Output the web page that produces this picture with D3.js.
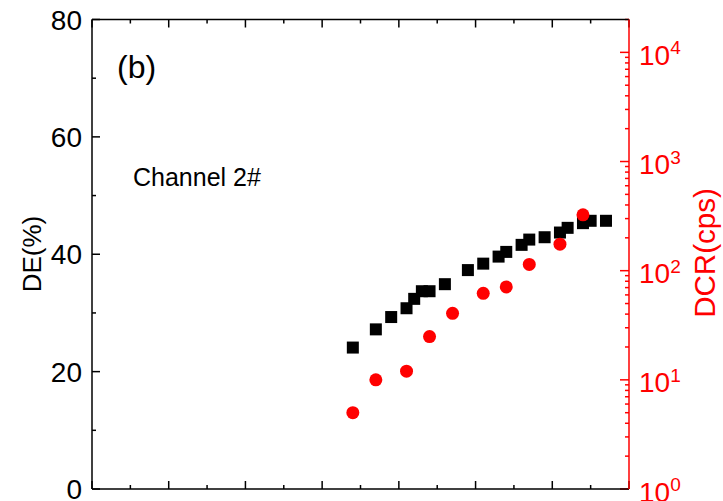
<!DOCTYPE html>
<html>
<head>
<meta charset="utf-8">
<script src="https://cdn.jsdelivr.net/npm/d3@7"></script>
<style>
  body { margin: 0; background: #fff; }
  svg text { font-family: "Liberation Sans", Arial, sans-serif; }
</style>
</head>
<body>
<svg id="chart" width="723" height="501"></svg>
<script>
// detection efficiency (left axis, %)
const deX = [3.4, 3.7, 3.9, 4.1, 4.2, 4.3, 4.4, 4.6, 4.9, 5.1, 5.3, 5.4, 5.6, 5.7, 5.9, 6.1, 6.2, 6.4, 6.5, 6.7]
const deY = [24.1, 27.2, 29.3, 30.8, 32.4, 33.7, 33.7, 34.9, 37.3, 38.4, 39.6, 40.4, 41.6, 42.5, 42.9, 43.7, 44.5, 45.3, 45.7, 45.7]

// dark count rate (right axis, cps)
const dcrX = [3.4, 3.7, 4.1, 4.4, 4.7, 5.1, 5.4, 5.7, 6.1, 6.4]
const dcrY = [5.0, 10.0, 12.0, 24.9, 40.7, 62, 71, 114, 175, 325]

const deTicks = [0, 20, 40, 60, 80]
const dcrDecades = [0, 1, 2, 3, 4]

let svg = d3.select('#chart')
let pL = 92, pR = 629, pT = 19.5, pB = 489

let x = d3.scaleLinear().domain([0, 7]).range([pL, pR])
let y = d3.scaleLinear().domain([0, 80]).range([pB, pT])
let yLog = d3.scaleLog().domain([1, 20000]).range([pB, pT])

let red = '#ff0000'
let fontSize = 28

// x axes (no labels), ticks point inward
let xMinor = d3.range(0, 7.01, 0.5)
function xTicks(yPos, dir) {
  svg.append('g').selectAll('line')
    .data(xMinor)
    .enter().append('line')
    .attr('x1', d => x(d)).attr('x2', d => x(d))
    .attr('y1', yPos)
    .attr('y2', d => yPos + dir * (d % 1 === 0 ? 8 : 4))
    .attr('stroke', 'black')
    .attr('stroke-width', 1.5)
}
xTicks(pB, -1)
xTicks(pT, 1)

// left axis ticks
let yMinor = d3.range(0, 81, 10)
svg.append('g').selectAll('line')
  .data(yMinor)
  .enter().append('line')
  .attr('x1', pL)
  .attr('x2', d => pL + (d % 20 === 0 ? 8 : 4))
  .attr('y1', d => y(d)).attr('y2', d => y(d))
  .attr('stroke', 'black')
  .attr('stroke-width', 1.5)

svg.append('g').selectAll('text')
  .data(deTicks)
  .enter().append('text')
  .attr('x', pL - 10)
  .attr('y', d => y(d))
  .attr('dy', '0.36em')
  .attr('text-anchor', 'end')
  .attr('font-size', fontSize)
  .text(d => d)

// right log axis ticks
let logMinor = []
dcrDecades.forEach(e => {
  for (let m = 1; m < 10; m++) {
    let v = m * Math.pow(10, e)
    if (v <= 20000) logMinor.push(v)
  }
})
svg.append('g').selectAll('line')
  .data(logMinor)
  .enter().append('line')
  .attr('x1', pR)
  .attr('x2', (d, i) => pR - (i % 9 === 0 ? 9 : 4))
  .attr('y1', d => yLog(d)).attr('y2', d => yLog(d))
  .attr('stroke', red)
  .attr('stroke-width', 1.5)

let rLabels = svg.append('g').selectAll('text')
  .data(dcrDecades)
  .enter().append('text')
  .attr('x', pR + 10)
  .attr('y', d => yLog(Math.pow(10, d)))
  .attr('dy', '0.45em')
  .attr('font-size', fontSize)
  .attr('fill', red)
rLabels.append('tspan').text('10')
rLabels.append('tspan')
  .attr('dy', '-0.55em')
  .attr('font-size', fontSize * 0.68)
  .text(d => d)

// frame
svg.append('line').attr('x1', pL).attr('x2', pR).attr('y1', pT).attr('y2', pT)
  .attr('stroke', 'black').attr('stroke-width', 1.5)
svg.append('line').attr('x1', pL).attr('x2', pR).attr('y1', pB).attr('y2', pB)
  .attr('stroke', 'black').attr('stroke-width', 1.5)
svg.append('line').attr('x1', pL).attr('x2', pL).attr('y1', pT).attr('y2', pB)
  .attr('stroke', 'black').attr('stroke-width', 1.5)
svg.append('line').attr('x1', pR).attr('x2', pR).attr('y1', pT).attr('y2', pB)
  .attr('stroke', red).attr('stroke-width', 1.5)

// axis titles
svg.append('text')
  .attr('transform', `translate(${32},${254}) rotate(-90)`)
  .attr('text-anchor', 'middle')
  .attr('dy', '0.36em')
  .attr('font-size', 26)
  .text('DE(%)')

svg.append('text')
  .attr('transform', `translate(${704},${253}) rotate(-90)`)
  .attr('text-anchor', 'middle')
  .attr('dy', '0.36em')
  .attr('font-size', 29.5)
  .attr('fill', red)
  .text('DCR(cps)')

// annotations
svg.append('text').attr('x', 117).attr('y', 78).attr('font-size', 32).text('(b)')
svg.append('text').attr('x', 133).attr('y', 186).attr('font-size', 25).text('Channel 2#')

// data
let sq = 12
svg.append('g').selectAll('rect')
  .data(deX.map((d, i) => [d, deY[i]]))
  .enter().append('rect')
  .attr('x', d => x(d[0]) - sq / 2)
  .attr('y', d => y(d[1]) - sq / 2)
  .attr('width', sq).attr('height', sq)
  .attr('fill', 'black')

svg.append('g').selectAll('circle')
  .data(dcrX.map((d, i) => [d, dcrY[i]]))
  .enter().append('circle')
  .attr('cx', d => x(d[0]))
  .attr('cy', d => yLog(d[1]))
  .attr('r', 6.5)
  .attr('fill', red)
</script>
</body>
</html>
